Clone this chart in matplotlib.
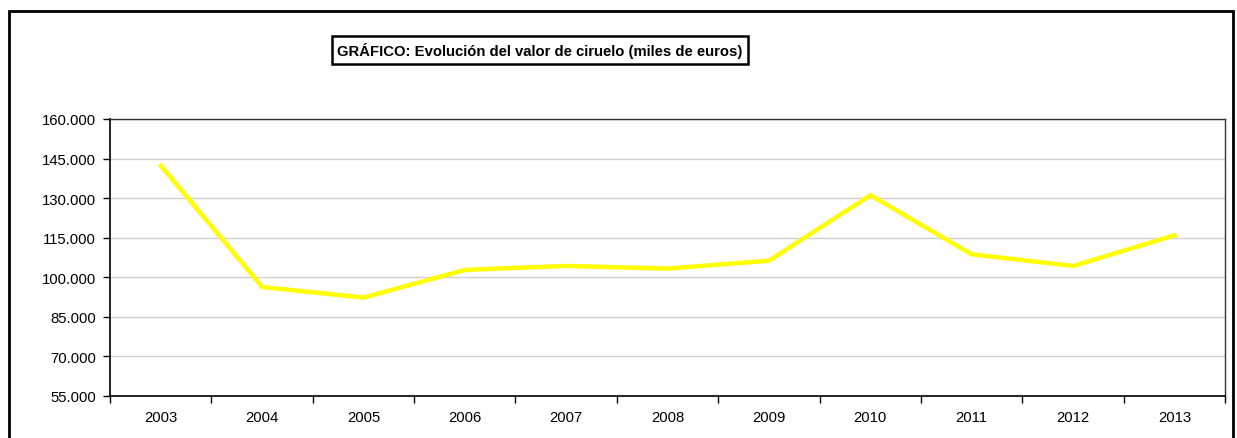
import matplotlib.pyplot as plt
from matplotlib.patches import Rectangle
from matplotlib.ticker import FuncFormatter

years = ['2003', '2004', '2005', '2006', '2007', '2008', '2009', '2010', '2011', '2012', '2013']
valor = [142300, 96300, 92300, 102800, 104300, 103300, 106300, 131100, 108700, 104300, 115900]
y_ticks = [55000, 70000, 85000, 100000, 115000, 130000, 145000, 160000]

plt.rcParams['font.family'] = ['Liberation Sans', 'DejaVu Sans']

fig = plt.figure(figsize=(12.37, 4.39), dpi=100)
W, H = 1237, 439
ax = fig.add_axes([110 / W, 1 - 397 / H, 1115 / W, 277 / H])

x = range(len(years))
ax.plot(x, valor, color='#ffff00', linewidth=3.2, solid_joinstyle='miter')

ax.set_xlim(-0.5, len(years) - 0.5)
ax.set_ylim(y_ticks[0], y_ticks[-1])
ax.set_yticks(y_ticks)
ax.yaxis.set_major_formatter(FuncFormatter(lambda v, p: f'{v:,.0f}'.replace(',', '.')))
ax.grid(axis='y', color='#cfcfcf', linewidth=1)
ax.set_axisbelow(True)

ax.set_xticks([i + 0.5 for i in range(-1, len(years))])
ax.set_xticklabels([])
ax.set_xticks(list(x), minor=True)
ax.set_xticklabels(years, minor=True)
ax.tick_params(axis='x', which='major', direction='out', length=5, width=1)
ax.tick_params(axis='x', which='minor', length=0, pad=10)
ax.tick_params(axis='y', direction='out', length=5, width=1, pad=5)
ax.tick_params(which='both', labelsize=10.7, colors='black')

for s in ['top', 'right']:
    ax.spines[s].set_color('#333333')
    ax.spines[s].set_linewidth(1)
for s in ['left', 'bottom']:
    ax.spines[s].set_color('black')
    ax.spines[s].set_linewidth(1.2)

# outer frame
fig.patches.append(Rectangle((9 / W, -0.02), (1233 - 9) / W, 1 - 12 / H + 0.02,
                             transform=fig.transFigure, fill=False,
                             edgecolor='black', linewidth=2))

fig.text(540 / W, 1 - 51 / H, 'GRÁFICO: Evolución del valor de ciruelo (miles de euros)',
         ha='center', va='center', fontsize=10.7, fontweight='bold',
         bbox=dict(boxstyle='square,pad=0.38', facecolor='white',
                   edgecolor='black', linewidth=1.8))

fig.savefig('out.png', dpi=100)
